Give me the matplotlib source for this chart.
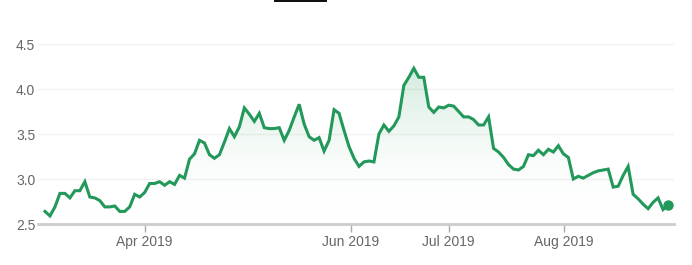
import numpy as np
import matplotlib.pyplot as plt
from matplotlib.colors import LinearSegmentedColormap
from matplotlib.patches import Rectangle

plt.rcParams['font.family'] = ['Liberation Sans', 'DejaVu Sans']

# daily closing prices, Mar - Aug 2019
prices = [
    2.64, 2.59, 2.69, 2.84, 2.84, 2.79, 2.87, 2.87, 2.97, 2.80,
    2.79, 2.76, 2.69, 2.69, 2.70, 2.64, 2.64, 2.69, 2.83, 2.80,
    2.85, 2.95, 2.95, 2.97, 2.93, 2.97, 2.94, 3.04, 3.01, 3.22,
    3.28, 3.43, 3.40, 3.27, 3.23, 3.27, 3.41, 3.56, 3.47, 3.58,
    3.79, 3.72, 3.64, 3.73, 3.57, 3.56, 3.56, 3.57, 3.43, 3.54,
    3.69, 3.83, 3.61, 3.47, 3.43, 3.46, 3.31, 3.43, 3.77, 3.73,
    3.54, 3.36, 3.23, 3.14, 3.19, 3.20, 3.19, 3.50, 3.60, 3.53,
    3.59, 3.69, 4.04, 4.13, 4.23, 4.13, 4.13, 3.80, 3.74, 3.80,
    3.79, 3.82, 3.81, 3.75, 3.69, 3.69, 3.66, 3.60, 3.60, 3.69,
    3.34, 3.30, 3.24, 3.16, 3.11, 3.10, 3.14, 3.27, 3.26, 3.32,
    3.27, 3.33, 3.30, 3.37, 3.28, 3.24, 3.00, 3.03, 3.01, 3.04,
    3.07, 3.09, 3.10, 3.11, 2.91, 2.92, 3.04, 3.14, 2.83, 2.78,
    2.72, 2.67, 2.74, 2.79, 2.66, 2.71,
]
month_labels = ["Apr 2019", "Jun 2019", "Jul 2019", "Aug 2019"]
month_index = [20.0, 61.3, 81.0, 104.1]
y_ticks = [2.5, 3.0, 3.5, 4.0, 4.5]

green = "#22985a"
x = np.arange(len(prices))
y = np.array(prices)

fig = plt.figure(figsize=(6.92, 2.65), dpi=100)
W, H = 692, 265
ax = fig.add_axes([38 / W, (H - 224) / H, (674 - 38) / W, (224 - 44) / H])

ax.set_xlim(-1.4, 126.2)
ax.set_ylim(2.5, 4.5)

# gradient fill under the line
cmap = LinearSegmentedColormap.from_list(
    "fade", [(1, 1, 1, 0), (0.13, 0.60, 0.35, 0.20)])
grad = np.linspace(0, 1, 256).reshape(-1, 1)
img = ax.imshow(grad, cmap=cmap, aspect="auto", origin="lower",
                extent=(x[0], x[-1], 2.5, y.max()), zorder=1)
poly = ax.fill_between(x, y, 2.5, color="none")
clip = poly.get_paths()[0]
img.set_clip_path(clip, ax.transData)

ax.plot(x, y, color=green, lw=2.2, zorder=3, solid_joinstyle="miter")
ax.plot(x[-1], y[-1], "o", color=green, ms=6.5, zorder=4)

# axes styling
for s in ["top", "right", "left"]:
    ax.spines[s].set_visible(False)
ax.spines["bottom"].set_color("#cccccc")
ax.spines["bottom"].set_linewidth(2)

ax.set_yticks(y_ticks)
ax.set_yticklabels([f"{v:.1f}" for v in y_ticks])
ax.tick_params(axis="y", length=0, pad=2, labelsize=10, labelcolor="#666666")
for v in y_ticks[1:]:
    ax.axhline(v, color="#f2f2f2", lw=1, zorder=0)

ax.set_xticks(month_index)
ax.set_xticklabels(month_labels)
ax.tick_params(axis="x", length=6, width=1, color="#aaaaaa", pad=2,
               labelsize=10, labelcolor="#666666")

# cropped header tab at the top edge
fig.patches.append(Rectangle((274 / W, 1 - 2 / H), 53 / W, 2 / H,
                             transform=fig.transFigure, facecolor="#111111",
                             edgecolor="none"))

fig.savefig("out.png", dpi=100)
